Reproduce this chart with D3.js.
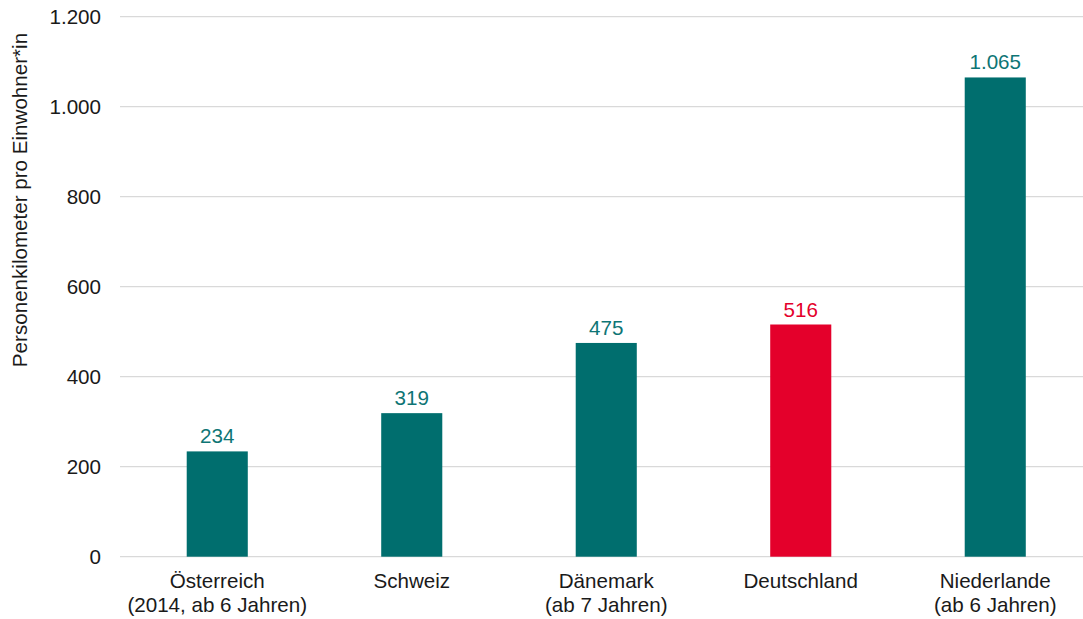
<!DOCTYPE html>
<html>
<head>
<meta charset="utf-8">
<script src="https://cdn.jsdelivr.net/npm/d3@7"></script>
<style>
body { margin: 0; background: #fff; }
svg { display: block; font-family: "Liberation Sans", Arial, sans-serif; }
</style>
</head>
<body>
<svg id="chart" width="1083" height="619"></svg>
<script>
const categories = [["Österreich", "(2014, ab 6 Jahren)"], ["Schweiz"], ["Dänemark", "(ab 7 Jahren)"], ["Deutschland"], ["Niederlande", "(ab 6 Jahren)"]];
const values = [234, 319, 475, 516, 1065];
const highlight = [false, false, false, true, false];
const yTicks = [0, 200, 400, 600, 800, 1000, 1200];
const yTitle = "Personenkilometer pro Einwohner*in";

const teal = "#006e6e", red = "#e4002b", tealText = "#0e7575";
const fmt = d3.formatLocale({decimal: ",", thousands: ".", grouping: [3], currency: ["", "€"]}).format(",d");
const fs = 20.6;

const svg = d3.select("#chart");
const keys = categories.map((c, i) => i);
const x = d3.scaleBand().domain(keys).range([120, 1092.5]).paddingInner(0.686).paddingOuter(0.343);
const y = d3.scaleLinear().domain([0, 1200]).range([556.7, 16.7]);

// gridlines
svg.append("g").selectAll("line").data(yTicks).join("line")
  .attr("x1", 120).attr("x2", 1083)
  .attr("y1", d => y(d)).attr("y2", d => y(d))
  .attr("stroke", "#d9d9d9").attr("stroke-width", 1.2);

// y tick labels
svg.append("g").selectAll("text").data(yTicks).join("text")
  .attr("x", 101).attr("y", d => y(d)).attr("dy", "0.36em")
  .attr("text-anchor", "end").attr("font-size", fs).attr("fill", "#1a1a1a")
  .text(d => fmt(d));

// y title
svg.append("text")
  .attr("transform", "translate(27,200) rotate(-90)")
  .attr("text-anchor", "middle").attr("font-size", fs).attr("fill", "#1a1a1a")
  .text(yTitle);

// bars
svg.append("g").selectAll("rect").data(values).join("rect")
  .attr("x", (d, i) => x(i)).attr("width", x.bandwidth())
  .attr("y", d => y(d)).attr("height", d => y(0) - y(d))
  .attr("fill", (d, i) => highlight[i] ? red : teal);

// value labels
svg.append("g").selectAll("text").data(values).join("text")
  .attr("x", (d, i) => x(i) + x.bandwidth() / 2).attr("y", d => y(d) - 8)
  .attr("text-anchor", "middle").attr("font-size", fs)
  .attr("fill", (d, i) => highlight[i] ? red : tealText)
  .text(d => fmt(d));

// category labels
const cat = svg.append("g").selectAll("text").data(categories).join("text")
  .attr("x", (d, i) => x(i) + x.bandwidth() / 2).attr("y", 588)
  .attr("text-anchor", "middle").attr("font-size", fs).attr("fill", "#1a1a1a");
cat.selectAll("tspan").data(d => d).join("tspan")
  .attr("x", function() { return this.parentNode.getAttribute("x"); })
  .attr("dy", (d, j) => j === 0 ? 0 : 23.5)
  .text(d => d);
</script>
</body>
</html>
